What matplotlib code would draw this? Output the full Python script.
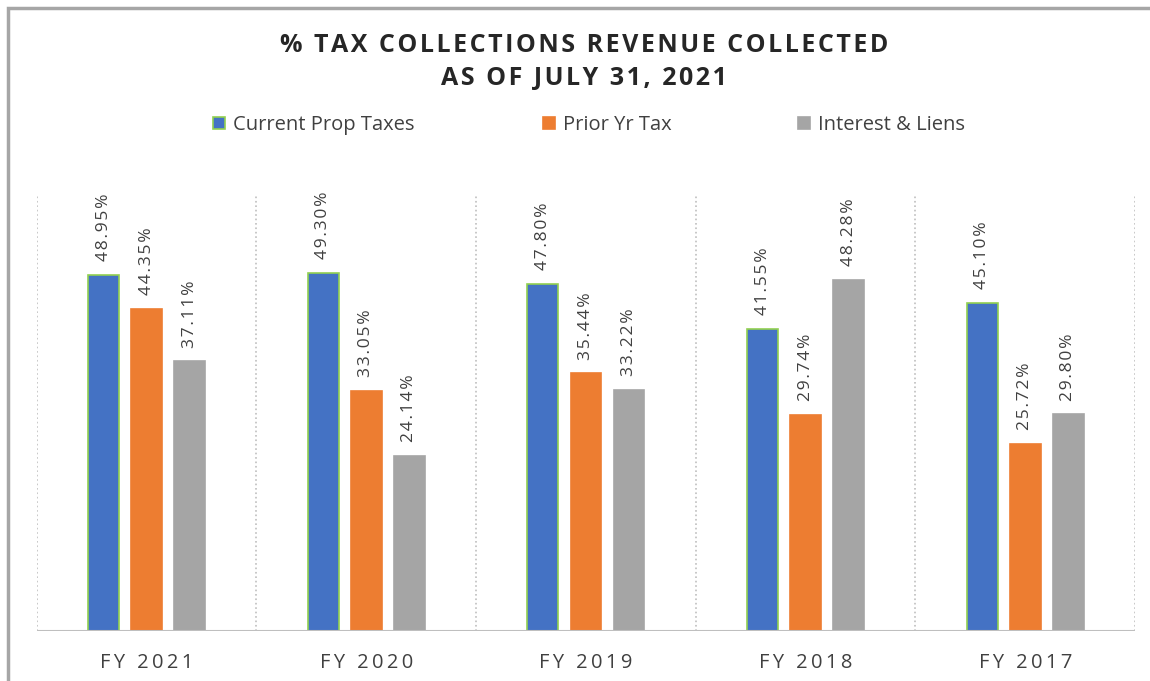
import matplotlib.pyplot as plt
import numpy as np
from matplotlib.patches import Rectangle
from matplotlib.lines import Line2D

categories = ['FY 2021', 'FY 2020', 'FY 2019', 'FY 2018', 'FY 2017']
series_names = ['Current Prop Taxes', 'Prior Yr Tax', 'Interest & Liens']
current_prop = [48.95, 49.30, 47.80, 41.55, 45.10]
prior_yr = [44.35, 33.05, 35.44, 29.74, 25.72]
interest_liens = [37.11, 24.14, 33.22, 48.28, 29.80]

colors = ['#4472C4', '#ED7D31', '#A5A5A5']
edges = ['#92D050', '#ED7D31', '#A5A5A5']
font = ['Liberation Sans Narrow', 'Open Sans', 'DejaVu Sans']
plt.rcParams['font.family'] = font


def spaced(s, gap='\u2009'):
    # rough letter spacing like the original
    return gap.join(s)


fig = plt.figure(figsize=(11.5, 6.81), dpi=100)
ax = fig.add_axes([0.032, 0.0734, 0.955, 0.6403])

# outer border of the chart
fig.add_artist(Rectangle((8 / 1150, -0.1), 1.2, 1 - 8 / 681 + 0.1,
                         transform=fig.transFigure, fill=False,
                         edgecolor='#A6A6A6', linewidth=2.5, clip_on=False))

x = np.arange(len(categories))
width = 0.14
step = 0.196
for i, vals in enumerate([current_prop, prior_yr, interest_liens]):
    pos = x + (i - 1) * step
    ax.bar(pos, vals, width, color=colors[i], edgecolor=edges[i],
           linewidth=1.2, label=series_names[i])
    for px, v in zip(pos, vals):
        ax.text(px, v + 1.9, spaced(f'{v:.2f}%', '\u200a'), rotation=90,
                ha='center', va='bottom', fontsize=12.5, color='#404040')

ax.set_xlim(-0.5, len(categories) - 0.5)
ax.set_ylim(0, 60)
for b in np.arange(-0.5, len(categories), 1.0):
    ax.axvline(b, color='#BFBFBF', linestyle=':', linewidth=1.2, zorder=0)
ax.axhline(0, color='#BFBFBF', linewidth=1.5)

for s in ax.spines.values():
    s.set_visible(False)
ax.set_yticks([])
ax.set_xticks(x)
ax.set_xticklabels([spaced(c) for c in categories], fontsize=14.5,
                   color='#404040')
ax.tick_params(axis='x', length=0, pad=16)

fig.text(0.508, 0.933, spaced('% TAX COLLECTIONS REVENUE COLLECTED', '\u200a'),
         ha='center', va='center', fontsize=18, fontweight='bold',
         color='#262626')
fig.text(0.508, 0.885, spaced('AS OF JULY 31, 2021', '\u200a'),
         ha='center', va='center', fontsize=18, fontweight='bold',
         color='#262626')

# legend entries placed one by one, like Excel spaces them
legend_x = [0.1835, 0.4704, 0.6922]
for i in range(3):
    h = Line2D([], [], marker='s', linestyle='', markersize=8.5,
               markerfacecolor=colors[i], markeredgecolor=edges[i],
               markeredgewidth=1.2)
    fig.legend([h], [series_names[i]], loc='center left',
               bbox_to_anchor=(legend_x[i], 0.816), frameon=False,
               fontsize=14.5, handletextpad=0.3, handlelength=0.8,
               borderpad=0, borderaxespad=0, labelcolor='#404040')

fig.savefig('out.png', dpi=100)
